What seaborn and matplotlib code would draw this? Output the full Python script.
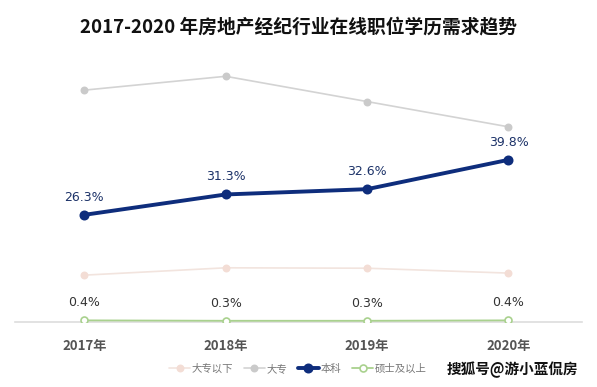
import matplotlib
matplotlib.use("Agg")
import matplotlib.pyplot as plt
import seaborn as sns

years = ["2017年", "2018年", "2019年", "2020年"]
below_junior = [11.5, 13.3, 13.2, 12.0]   # 大专以下 (no labels, read from position)
junior = [56.9, 60.3, 54.1, 47.9]         # 大专
bachelor = [26.3, 31.3, 32.6, 39.8]       # 本科
master = [0.4, 0.3, 0.3, 0.4]             # 硕士及以上
series_names = ["大专以下", "大专", "本科", "硕士及以上"]

sns.set_style("white")
plt.rcParams['font.family'] = ['Noto Sans CJK SC', 'DejaVu Sans']

fig = plt.figure(figsize=(5.97, 3.87), dpi=100)
ax = fig.add_axes([15 / 597, 65 / 387, 567 / 597, 262 / 387])

x = list(range(len(years)))
styles = {
    "大专以下": dict(color="#f2e4de", lw=1.2, ms=4.5, mfc="#f3ddd5", mec="#f3ddd5"),
    "大专": dict(color="#d3d3d3", lw=1.2, ms=4.5, mfc="#cacaca", mec="#cacaca"),
    "本科": dict(color="#0e2d7c", lw=2.8, ms=6, mfc="#0e2d7c", mec="#0e2d7c"),
    "硕士及以上": dict(color="#a9d18e", lw=1.3, ms=5, mfc="white", mec="#a9d18e"),
}
values = dict(zip(series_names, [below_junior, junior, bachelor, master]))

for name in series_names:
    st = styles[name]
    sns.lineplot(x=x, y=values[name], ax=ax, color=st["color"], linewidth=st["lw"],
                 marker="o", markersize=st["ms"], markerfacecolor=st["mfc"],
                 markeredgecolor=st["mec"], markeredgewidth=1.2, label=name, zorder=3)

# 数据标签
for i, v in enumerate(bachelor):
    ax.annotate(f"{v}%", (i, v), xytext=(0, 8), textcoords="offset points",
                ha="center", va="bottom", fontsize=9, color="#1c3268",
                family=['DejaVu Sans'])
for i, v in enumerate(master):
    ax.annotate(f"{v}%", (i, v), xytext=(0, 8), textcoords="offset points",
                ha="center", va="bottom", fontsize=9, color="#333333",
                family=['DejaVu Sans'])

ax.set_xlim(-0.49, 3.52)
ax.set_ylim(0, 64.3)
ax.set_yticks([])
ax.set_xticks(x)
ax.set_xticklabels(years, fontsize=9.5, fontweight="bold", color="#555555")
ax.tick_params(axis="x", length=0, pad=12)
for side in ["top", "left", "right"]:
    ax.spines[side].set_visible(False)
ax.spines["bottom"].set_color("#dddddd")
ax.spines["bottom"].set_linewidth(1.2)

handles, labels = ax.get_legend_handles_labels()
ax.legend(handles, labels, loc="center", bbox_to_anchor=(283 / 567, -47 / 262),
          ncol=4, frameon=False, fontsize=7.5, handlelength=2.0, handletextpad=0.2,
          columnspacing=1.0, labelcolor="#777777")

fig.suptitle("2017-2020 年房地产经纪行业在线职位学历需求趋势", x=0.5, y=1 - 28 / 387,
             va="center", fontsize=13.5, fontweight="bold", color="#111111")

fig.text(512 / 597, 1 - 370 / 387, "搜狐号@游小蓝侃房", ha="center", va="center",
         fontsize=10.5, fontweight="bold", color="#111111")

fig.savefig("out.png", dpi=100, facecolor="white")
